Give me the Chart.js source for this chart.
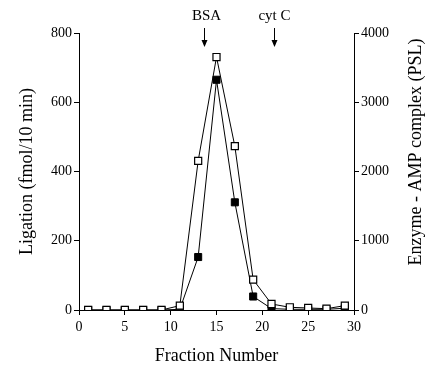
<!DOCTYPE html>
<html>
<head>
<meta charset="utf-8">
<script src="https://cdn.jsdelivr.net/npm/chart.js@4"></script>
<style>
html,body{margin:0;padding:0;background:#fff;}
#wrap{width:435px;height:367px;position:relative;}
</style>
</head>
<body>
<div id="wrap"><canvas id="c" width="435" height="367"></canvas></div>
<script>
// Data
const fractions = [1, 3, 5, 7, 9, 11, 13, 15, 17, 19, 21, 23, 25, 27, 29];
const ligation = [0, 0, 0, 0, 0, 2, 153, 665, 311, 39, 4, 2, 2, 2, 5];          // fmol/10 min (filled squares, left axis)
const enzymeAMP = [0, 0, 0, 0, 0, 63, 2154, 3653, 2366, 439, 87, 39, 29, 19, 63]; // PSL (open squares, right axis)
const xTicks = [0, 5, 10, 15, 20, 25, 30];
const leftTicks = [0, 200, 400, 600, 800];
const rightTicks = [0, 1000, 2000, 3000, 4000];
const markerLabels = ['BSA', 'cyt C'];
const markerFractions = [13.6, 21.3];
const rightTitle = 'Enzyme - AMP complex (PSL)';

const FONT = '"Liberation Serif", "DejaVu Serif", serif';

const markerPlugin = {
  id: 'markers',
  afterDraw(chart) {
    const ctx = chart.ctx;
    const xs = chart.scales.x;
    ctx.save();
    ctx.fillStyle = '#000';
    ctx.strokeStyle = '#000';
    ctx.lineWidth = 1;
    ctx.font = '15px ' + FONT;
    ctx.textAlign = 'center';
    ctx.textBaseline = 'middle';
    markerLabels.forEach((lab, i) => {
      const x = Math.round(xs.getPixelForValue(markerFractions[i])) + 0.5;
      ctx.fillText(lab, x + (i === 0 ? 2 : 0), 16);
      ctx.beginPath();
      ctx.moveTo(x, 28);
      ctx.lineTo(x, 42);
      ctx.stroke();
      ctx.beginPath();
      ctx.moveTo(x - 3, 40);
      ctx.lineTo(x + 3, 40);
      ctx.lineTo(x, 47);
      ctx.closePath();
      ctx.fill();
    });
    // right axis title, reading bottom-to-top
    ctx.font = '18px ' + FONT;
    ctx.translate(416, 152);
    ctx.rotate(-Math.PI / 2);
    ctx.fillText(rightTitle, 0, 0);
    ctx.restore();
  }
};

const tickGrid = {
  display: true,
  drawOnChartArea: false,
  drawTicks: true,
  tickLength: 5,
  color: '#000',
  lineWidth: 1
};

new Chart(document.getElementById('c'), {
  type: 'line',
  data: {
    datasets: [
      {
        label: 'Enzyme - AMP complex (PSL)',
        data: fractions.map((f, i) => ({x: f, y: enzymeAMP[i]})),
        yAxisID: 'y2',
        borderColor: '#000',
        borderWidth: 1,
        pointStyle: 'rect',
        pointRadius: 5,
        pointBorderWidth: 1.2,
        pointBackgroundColor: '#fff',
        pointBorderColor: '#000',
        tension: 0
      },
      {
        label: 'Ligation (fmol/10 min)',
        data: fractions.map((f, i) => ({x: f, y: ligation[i]})),
        yAxisID: 'y',
        borderColor: '#000',
        borderWidth: 1,
        pointStyle: 'rect',
        pointRadius: 5,
        pointBorderWidth: 1,
        pointBackgroundColor: '#000',
        pointBorderColor: '#000',
        tension: 0
      }
    ]
  },
  options: {
    responsive: false,
    animation: false,
    devicePixelRatio: 1,
    layout: {padding: {left: 0, right: 0, top: 33, bottom: 0}},
    plugins: {legend: {display: false}, tooltip: {enabled: false}},
    scales: {
      x: {
        type: 'linear',
        min: 0, max: 30,
        afterBuildTicks: s => { s.ticks = xTicks.map(v => ({value: v})); },
        afterFit: s => { s.height = 57; },
        grid: tickGrid,
        border: {display: true, color: '#000', width: 1},
        ticks: {color: '#000', font: {family: FONT, size: 14}, padding: 4, maxRotation: 0},
        title: {display: true, text: 'Fraction Number', color: '#000', font: {family: FONT, size: 18}, padding: {top: 0, bottom: 0}}
      },
      y: {
        type: 'linear',
        position: 'left',
        min: 0, max: 800,
        afterBuildTicks: s => { s.ticks = leftTicks.map(v => ({value: v})); },
        afterFit: s => { s.width = 79; },
        grid: tickGrid,
        border: {display: true, color: '#000', width: 1},
        ticks: {color: '#000', font: {family: FONT, size: 14}, padding: 2},
        title: {display: true, text: 'Ligation (fmol/10 min)', color: '#000', font: {family: FONT, size: 18}, padding: {top: 16, bottom: 0}}
      },
      y2: {
        type: 'linear',
        position: 'right',
        min: 0, max: 4000,
        afterBuildTicks: s => { s.ticks = rightTicks.map(v => ({value: v})); },
        afterFit: s => { s.width = 81; },
        grid: tickGrid,
        border: {display: true, color: '#000', width: 1},
        ticks: {color: '#000', font: {family: FONT, size: 14}, padding: 2, callback: v => String(v)},
        title: {display: false}
      }
    }
  },
  plugins: [markerPlugin]
});
</script>
</body>
</html>
